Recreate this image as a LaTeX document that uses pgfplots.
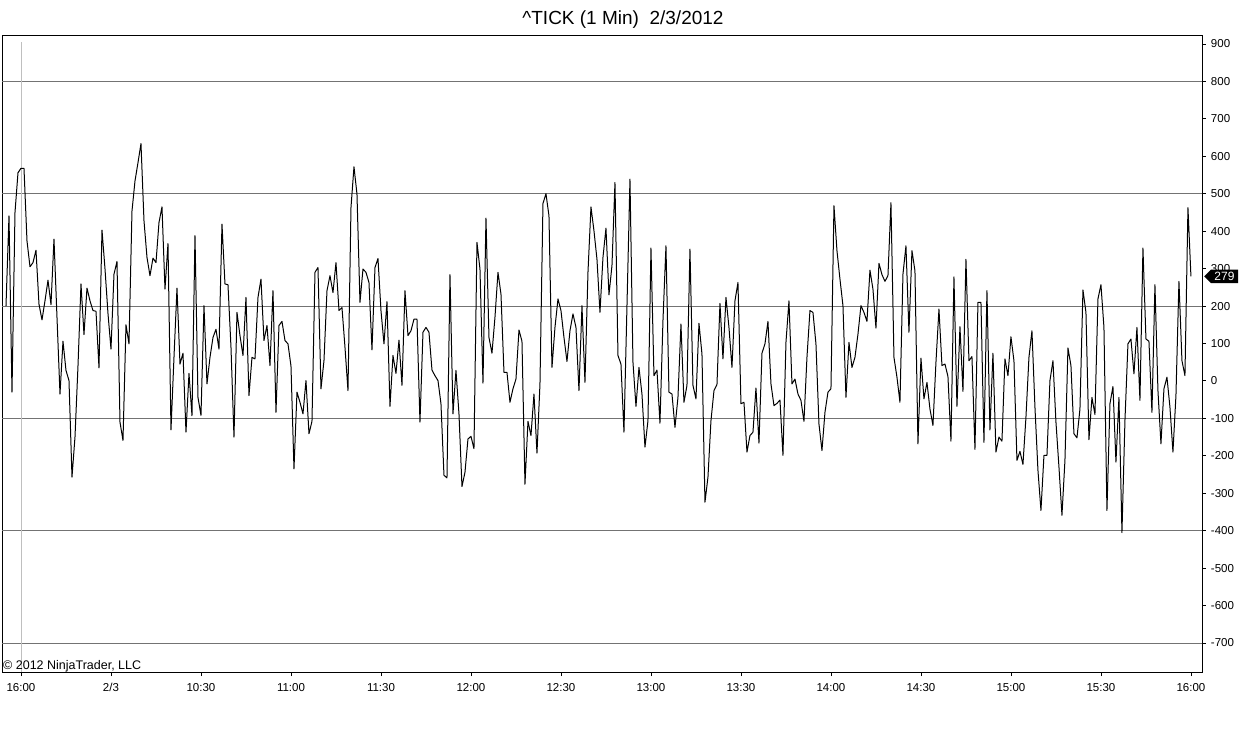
\documentclass[border=0pt]{standalone}
\usepackage{pgfplots}
\pgfplotsset{compat=1.18}
\usepackage{fontspec}
\setmainfont{Liberation Sans}
\usetikzlibrary{shapes.symbols}

% ^TICK, 1 minute closes, bar index: 0 = 16:00 of 2/2, 1 = 9:31 of 2/3
\pgfplotstableread{
i v
-5 200
-4 441
-3 -30
-2 450
-1 556
0 568
1 568
2 374
3 305
4 316
5 349
6 205
7 163
8 214
9 269
10 204
11 379
12 170
13 -35
14 106
15 28
16 1
17 -257
18 -150
19 40
20 259
21 124
22 248
23 214
24 188
25 186
26 35
27 403
28 300
29 180
30 85
31 285
32 319
33 -110
34 -159
35 150
36 99
37 454
38 534
39 583
40 634
41 428
42 330
43 281
44 328
45 316
46 423
47 465
48 245
49 367
50 -131
51 63
52 248
53 45
54 74
55 -137
56 20
57 -93
58 388
59 -44
60 -92
61 201
62 -8
63 63
64 116
65 138
66 85
67 419
68 259
69 257
70 90
71 -150
72 183
73 121
74 68
75 223
76 -39
77 63
78 59
79 223
80 272
81 108
82 148
83 41
84 241
85 -84
86 148
87 159
88 108
89 99
90 40
91 -235
92 -30
93 -57
94 -88
95 1
96 -141
97 -108
98 290
99 303
100 -21
101 54
102 241
103 281
104 236
105 316
106 188
107 196
108 90
109 -26
110 463
111 572
112 499
113 210
114 299
115 290
116 263
117 83
118 303
119 327
120 188
121 99
122 212
123 -68
124 68
125 20
126 109
127 -12
128 241
129 121
130 134
131 165
132 165
133 -110
134 130
135 143
136 130
137 29
138 14
139 1
140 -61
141 -252
142 -259
143 284
144 -88
145 28
146 -88
147 -282
148 -244
149 -155
150 -148
151 -181
152 370
153 299
154 -6
155 435
156 116
157 74
158 170
159 290
160 232
161 23
162 23
163 -57
164 -21
165 5
166 136
167 106
168 -276
169 -108
170 -146
171 -35
172 -193
173 -8
174 474
175 500
176 441
177 36
178 143
179 219
180 188
181 116
182 52
183 134
184 179
185 143
186 -26
187 201
188 -4
189 290
190 465
191 401
192 325
193 183
194 330
195 408
196 230
197 308
198 530
199 68
200 45
201 -137
202 200
203 539
204 50
205 -68
206 36
207 -35
208 -177
209 -106
210 355
211 14
212 29
213 -113
214 161
215 361
216 -30
217 -35
218 -124
219 -44
220 152
221 -57
222 -12
223 352
224 -12
225 -48
226 154
227 72
228 -324
229 -257
230 -106
231 -26
232 -10
233 207
234 59
235 223
236 143
237 36
238 214
239 263
240 -61
241 -57
242 -190
243 -146
244 -137
245 -19
246 -166
247 74
248 99
249 159
250 -8
251 -66
252 -60
253 -51
254 -199
255 103
256 214
257 -8
258 5
259 -35
260 -52
261 -108
262 63
263 188
264 183
265 99
266 -115
267 -186
268 -84
269 -30
270 -21
271 468
272 348
273 272
274 201
275 -44
276 103
277 36
278 63
279 125
280 201
281 183
282 159
283 296
284 245
285 141
286 314
287 284
288 266
289 281
290 476
291 63
292 10
293 -57
294 285
295 361
296 130
297 348
298 294
299 -168
300 61
301 -48
302 -4
303 -75
304 -119
305 50
306 192
307 41
308 45
309 12
310 -161
311 278
312 -68
313 145
314 -28
315 325
316 54
317 65
318 -183
319 210
320 210
321 -164
322 241
323 -131
324 74
325 -190
326 -150
327 -161
328 59
329 14
330 118
331 54
332 -212
333 -188
334 -223
335 -97
336 63
337 134
338 -70
339 -239
340 -346
341 -199
342 -199
343 1
344 54
345 -110
346 -230
347 -359
348 -212
349 88
350 41
351 -141
352 -152
353 -75
354 243
355 183
356 -157
357 -44
358 -90
359 219
360 257
361 143
362 -346
363 -61
364 -15
365 -217
366 -44
367 -405
368 -106
369 99
370 112
371 19
372 143
373 -52
374 355
375 112
376 106
377 -84
378 257
379 -26
380 -168
381 -21
382 10
383 -70
384 -190
385 -39
386 266
387 54
388 14
389 463
390 279
}\tick

\begin{document}
\begin{tikzpicture}[x=1pt,y=1pt]
\begin{axis}[
  width=1200pt, height=637pt, scale only axis,
  xmin=-6.33, xmax=393.67, ymin=-777.5, ymax=924,
  clip=false,
  axis line style={black, line width=0.9pt},
  tick style={black, line width=0.9pt},
  tick align=outside, major tick length=4pt,
  ytick={-700,-600,...,900},
  ytick pos=right,
  yticklabel pos=right,
  yticklabel style={xshift=1.5pt},
  xtick={0,30,...,390},
  xticklabels={16:00,2/3,10:30,11:00,11:30,12:00,12:30,13:00,13:30,14:00,14:30,15:00,15:30,16:00},
  xtick pos=bottom,
  xticklabel style={yshift=-4pt},
  ticklabel style={font=\fontsize{11.5}{13}\selectfont},
  /pgf/number format/assume math mode=true,
  scaled y ticks=false,
  extra y ticks={-700,-400,-100,200,500,800},
  extra y tick labels={},
  extra y tick style={grid=major, major grid style={black!55, line width=0.9pt}},
]
\draw[black!25, line width=0.9pt] (axis cs:0,905) -- (axis cs:0,-777.5);
\addplot[black, line width=1pt, line join=round] table[x=i, y=v] {\tick};
\node[anchor=south west, inner sep=0pt, font=\fontsize{12.5}{14}\selectfont]
  at (axis cs:-6.33,-777.5) [xshift=1pt, yshift=0pt] {\textcopyright{} 2012 NinjaTrader, LLC};
\node[signal, signal to=west, fill=black, text=white, inner xsep=3.5pt, inner ysep=2.5pt,
  font=\fontsize{12}{13}\selectfont, anchor=west]
  at (axis cs:393.67,279) [xshift=2pt] {279};
\end{axis}
\path (current axis.south west) ++(-2,-57) rectangle ++(1251,729);
\path (current axis.south west) ++(621,652)
  node[font=\fontsize{19}{22}\selectfont] {\^{}TICK (1 Min)\ \ 2/3/2012};
\end{tikzpicture}
\end{document}
